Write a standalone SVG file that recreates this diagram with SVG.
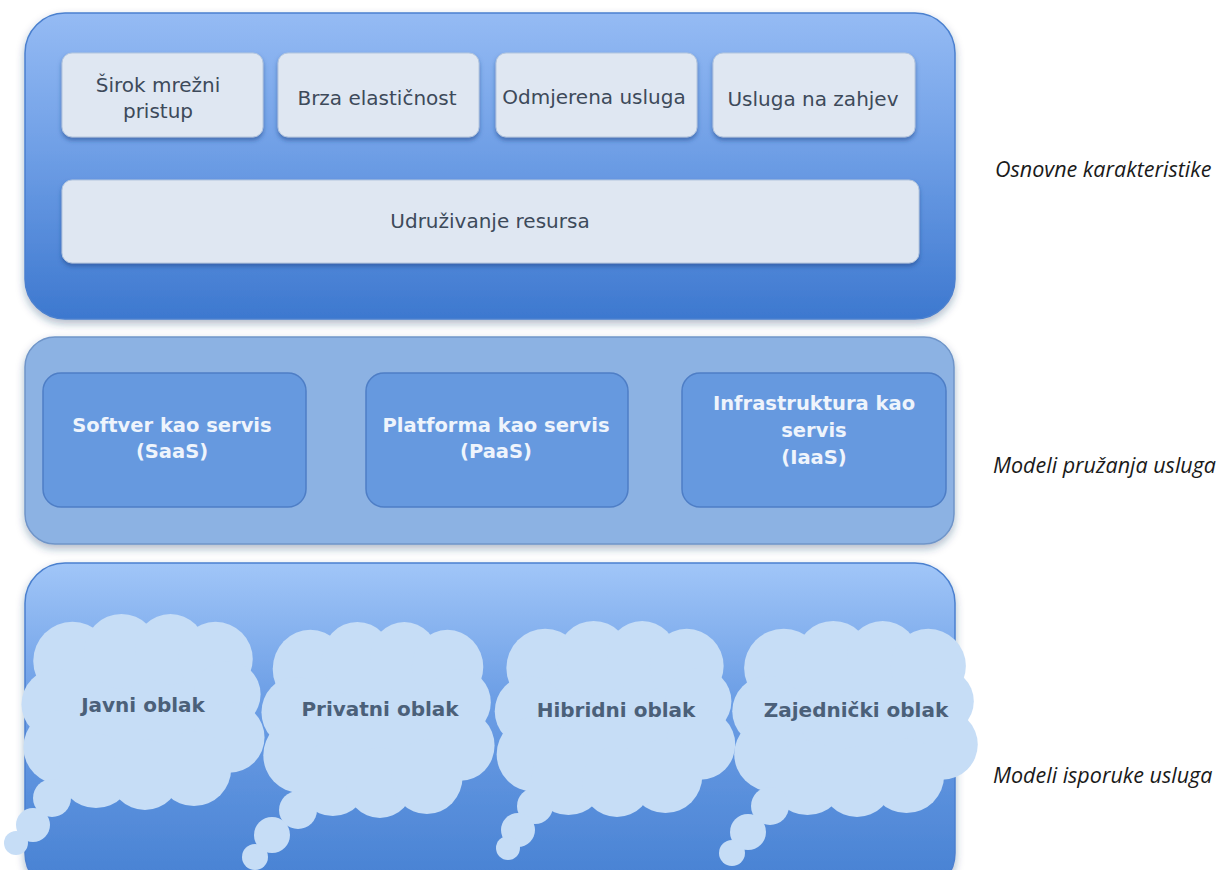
<svg xmlns="http://www.w3.org/2000/svg" xmlns:xlink="http://www.w3.org/1999/xlink" width="1223" height="870" viewBox="0 0 1223 870">
  <defs>
    <linearGradient id="gTop" x1="0" y1="0" x2="0" y2="1">
      <stop offset="0" stop-color="#95bbf4"/>
      <stop offset="0.45" stop-color="#6f9fe6"/>
      <stop offset="1" stop-color="#3d78cf"/>
    </linearGradient>
    <linearGradient id="gBot" x1="0" y1="0" x2="0" y2="1">
      <stop offset="0" stop-color="#a1c6f8"/>
      <stop offset="0.4" stop-color="#6d9fe6"/>
      <stop offset="1" stop-color="#4680d2"/>
    </linearGradient>
    <filter id="sh" x="-5%" y="-5%" width="110%" height="115%">
      <feDropShadow dx="0" dy="4" stdDeviation="4" flood-color="#1e3a66" flood-opacity="0.35"/>
    </filter>
    <filter id="shs" x="-5%" y="-10%" width="110%" height="130%">
      <feDropShadow dx="0" dy="3" stdDeviation="2" flood-color="#1e4a8a" flood-opacity="0.55"/>
    </filter>
    <g id="cloudBody">
      <ellipse cx="0" cy="5" rx="100" ry="80"/>
      <circle cx="-72" cy="-52" r="40"/>
      <circle cx="-22" cy="-62" r="38"/>
      <circle cx="28" cy="-64" r="36"/>
      <circle cx="74" cy="-54" r="38"/>
      <circle cx="-88" cy="-8" r="36"/>
      <circle cx="-84" cy="36" r="38"/>
      <circle cx="86" cy="-18" r="34"/>
      <circle cx="88" cy="26" r="36"/>
      <circle cx="-48" cy="60" r="38"/>
      <circle cx="2" cy="64" r="36"/>
      <circle cx="52" cy="58" r="38"/>
    </g>
    <style>
      .panelTop { fill: url(#gTop); stroke: #4b80cf; stroke-width: 1.5; }
      .panelMid { fill: #8cb2e3; stroke: #6f95c9; stroke-width: 1.5; }
      .panelBot { fill: url(#gBot); stroke: #4b80cf; stroke-width: 1.5; }
      .lbox { fill: #dfe7f2; stroke: #b4c6de; stroke-width: 1; }
      .mbox { fill: #6699df; stroke: #4e7ec6; stroke-width: 1.5; }
      .cloud { fill: #c6ddf6; }
      .tl { font-family: "DejaVu Sans", Verdana, sans-serif; font-size: 20px; fill: #3d4a5a; text-anchor: middle; }
      .tm { font-family: "DejaVu Sans", Verdana, sans-serif; font-size: 19.5px; font-weight: bold; fill: #eef4fc; text-anchor: middle; }
      .tc { font-family: "DejaVu Sans", Verdana, sans-serif; font-size: 20px; font-weight: bold; fill: #4b6079; text-anchor: middle; }
      .side { font-family: "Open Sans", "Liberation Sans", sans-serif; font-size: 21.5px; font-style: italic; fill: #1a1a1a; }
    </style>
  </defs>

  <rect width="1223" height="870" fill="#ffffff"/>

  <!-- Layer 1: basic characteristics -->
  <g id="panel-top">
    <rect class="panelTop" x="25" y="13" width="930" height="306" rx="40" filter="url(#sh)"/>
  </g>
  <g id="node-sirok">
    <rect class="lbox" x="62" y="53" width="201" height="84" rx="10" filter="url(#shs)"/>
    <text class="tl" x="158" y="92">Širok mrežni</text>
    <text class="tl" x="158" y="118">pristup</text>
  </g>
  <g id="node-brza">
    <rect class="lbox" x="278" y="53" width="201" height="84" rx="10" filter="url(#shs)"/>
    <text class="tl" x="377" y="105">Brza elastičnost</text>
  </g>
  <g id="node-odmjerena">
    <rect class="lbox" x="496" y="53" width="201" height="84" rx="10" filter="url(#shs)"/>
    <text class="tl" x="594" y="104">Odmjerena usluga</text>
  </g>
  <g id="node-usluga">
    <rect class="lbox" x="713" y="53" width="202" height="84" rx="10" filter="url(#shs)"/>
    <text class="tl" x="813" y="106">Usluga na zahjev</text>
  </g>
  <g id="node-udruzivanje">
    <rect class="lbox" x="62" y="180" width="857" height="83" rx="10" filter="url(#shs)"/>
    <text class="tl" x="490" y="228">Udruživanje resursa</text>
  </g>

  <!-- Layer 2: service models -->
  <g id="panel-mid">
    <rect class="panelMid" x="25" y="337" width="929" height="207" rx="30" filter="url(#sh)"/>
  </g>
  <g id="node-saas">
    <rect class="mbox" x="43" y="373" width="263" height="134" rx="18"/>
    <text class="tm" x="172" y="432">Softver kao servis</text>
    <text class="tm" x="172" y="458">(SaaS)</text>
  </g>
  <g id="node-paas">
    <rect class="mbox" x="366" y="373" width="262" height="134" rx="18"/>
    <text class="tm" x="496" y="432">Platforma kao servis</text>
    <text class="tm" x="496" y="458">(PaaS)</text>
  </g>
  <g id="node-iaas">
    <rect class="mbox" x="682" y="373" width="264" height="134" rx="18"/>
    <text class="tm" x="814" y="410">Infrastruktura kao</text>
    <text class="tm" x="814" y="437">servis</text>
    <text class="tm" x="814" y="464">(IaaS)</text>
  </g>

  <!-- Layer 3: deployment models -->
  <g id="panel-bot">
    <rect class="panelBot" x="25" y="563" width="930" height="330" rx="40" filter="url(#sh)"/>
  </g>
  <g id="node-javni" class="cloud">
    <use xlink:href="#cloudBody" transform="translate(143,712) scale(0.98,0.98)"/>
    <circle cx="52" cy="798" r="19"/>
    <circle cx="33" cy="825" r="17"/>
    <circle cx="16" cy="843" r="12"/>
    <text class="tc" x="143" y="712">Javni oblak</text>
  </g>
  <g id="node-privatni" class="cloud">
    <use xlink:href="#cloudBody" transform="translate(378,720) scale(0.94,0.98)"/>
    <circle cx="298" cy="810" r="19"/>
    <circle cx="272" cy="835" r="18"/>
    <circle cx="255" cy="857" r="13"/>
    <text class="tc" x="380" y="716">Privatni oblak</text>
  </g>
  <g id="node-hibridni" class="cloud">
    <use xlink:href="#cloudBody" transform="translate(615,719) scale(0.97,0.98)"/>
    <circle cx="535" cy="806" r="18"/>
    <circle cx="518" cy="830" r="17"/>
    <circle cx="508" cy="848" r="12"/>
    <text class="tc" x="616" y="717">Hibridni oblak</text>
  </g>
  <g id="node-zajednicki" class="cloud">
    <use xlink:href="#cloudBody" transform="translate(855,719) scale(0.99,0.98)"/>
    <circle cx="770" cy="806" r="19"/>
    <circle cx="748" cy="832" r="18"/>
    <circle cx="732" cy="853" r="13"/>
    <text class="tc" x="856" y="717">Zajednički oblak</text>
  </g>

  <!-- Side labels -->
  <g id="labels">
    <text class="side" x="995" y="177">Osnovne karakteristike</text>
    <text class="side" x="993" y="473">Modeli pružanja usluga</text>
    <text class="side" x="993" y="783">Modeli isporuke usluga</text>
  </g>

  <g id="connectors"/>
</svg>
